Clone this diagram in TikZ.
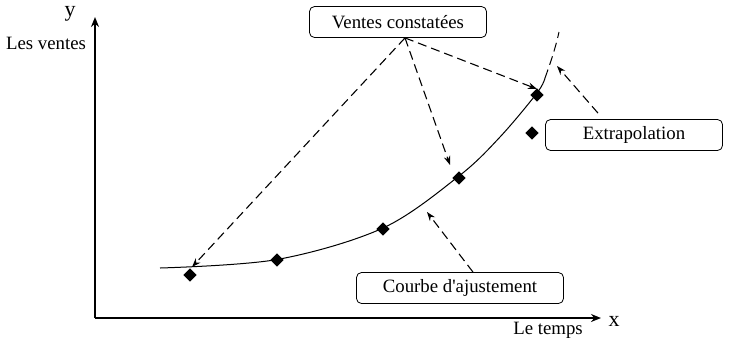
\documentclass[tikz,border=0pt]{standalone}
\usepackage{fontspec}
\setmainfont{Liberation Serif}[Ligatures=TeXOff]
\usetikzlibrary{shapes.geometric,arrows.meta}

\begin{document}
\begin{tikzpicture}[x=0.5pt,y=-0.5pt,
    box/.style={draw,rounded corners=2.5pt,minimum height=15.5pt,inner sep=2pt,
      font=\fontsize{9.4}{11}\selectfont},
    pt/.style={diamond,draw,fill,inner sep=0pt,minimum width=6.2pt,minimum height=6.2pt},
    lead/.style={dash pattern=on 4.5pt off 2.5pt,line width=0.55pt,
      -{Stealth[length=4.5pt,width=3.2pt]}}]
  \useasboundingbox (0,0) rectangle (739,350);
  % axes
  \coordinate (o) at (95,318);
  \coordinate (ytop) at (95,17);
  \coordinate (xend) at (601,318);
  \draw[line width=0.8pt,-{Stealth[length=5pt,width=4pt]}] (o) -- (ytop);
  \draw[line width=0.8pt,-{Stealth[length=5pt,width=4pt]}] (o) -- (xend);
  \node[font=\fontsize{11}{12}\selectfont] (ylab) at (70,14) {y};
  \node[font=\fontsize{9.4}{11}\selectfont] (yname) at (46,43) {Les ventes};
  \node[font=\fontsize{11}{12}\selectfont] (xlab) at (614,321) {x};
  \node[font=\fontsize{9.4}{11}\selectfont] (xname) at (548,330) {Le temps};
  % fitted curve
  \draw[line width=0.5pt] plot[smooth,tension=0.55] coordinates
    {(160,268) (277,259.5) (383,228) (459,176) (500,137) (537,93) (545,78)};
  \draw[dash pattern=on 4.5pt off 2.5pt,line width=0.5pt]
    (545,78) .. controls (550,64) and (555,50) .. (559,32);
  % observed sales
  \node[pt] (p1) at (190,275) {};
  \node[pt] (p2) at (277,260) {};
  \node[pt] (p3) at (383,229) {};
  \node[pt] (p4) at (459,178) {};
  \node[pt] (p5) at (532,133) {};
  \node[pt] (p6) at (537,95) {};
  % labels
  \node[box,minimum width=88.5pt] (vc) at (398,22) {Ventes constatées};
  \node[box,minimum width=88.5pt] (ex) at (634,135) {Extrapolation};
  \node[box,minimum width=103.5pt] (ca) at (460,288) {Courbe d'ajustement};
  \coordinate (t1) at (192,267);
  \coordinate (t2) at (450,165);
  \coordinate (t3) at (537,89);
  \coordinate (t4) at (557,66);
  \coordinate (t5) at (427,212);
  \begin{scope}[lead]
    \draw ([xshift=3.5pt]vc.south) -- (t1);
    \draw ([xshift=3.5pt]vc.south) -- (t2);
    \draw ([xshift=3.5pt]vc.south) -- (t3);
    \draw ([xshift=-18pt,yshift=3pt]ex.north) -- (t4);
    \draw ([xshift=6.5pt]ca.north) -- (t5);
  \end{scope}
\end{tikzpicture}
\end{document}
